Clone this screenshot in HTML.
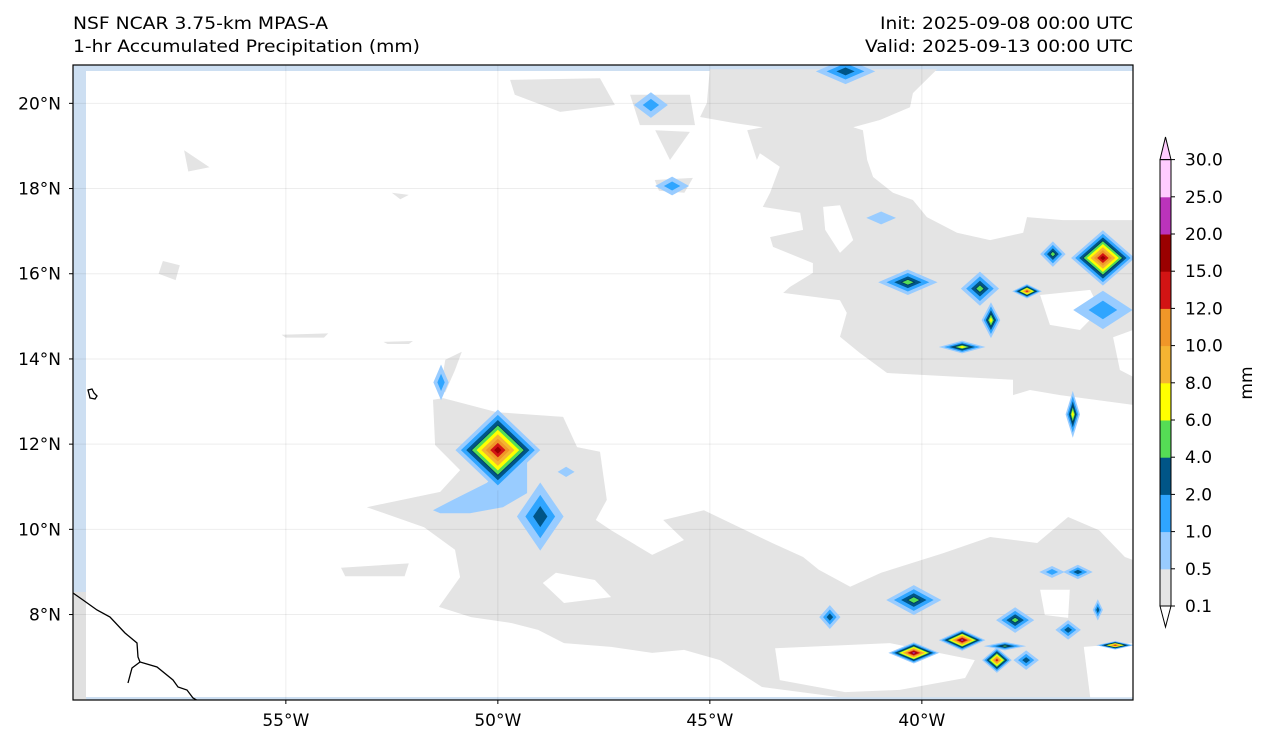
<!DOCTYPE html>
<html><head><meta charset="utf-8">
<style>
body{margin:0;background:#fff;font-family:"DejaVu Sans","Liberation Sans",sans-serif;}
svg text{font-family:"DejaVu Sans","Liberation Sans",sans-serif;fill:#000}
</style></head>
<body>
<svg id="chart" width="1268" height="745" xmlns="http://www.w3.org/2000/svg">
<rect width="1268" height="745" fill="#fff"/>
<text x="73" y="29" font-size="17" textLength="255" lengthAdjust="spacingAndGlyphs">NSF NCAR 3.75-km MPAS-A</text>
<text x="73" y="52" font-size="17" textLength="347" lengthAdjust="spacingAndGlyphs">1-hr Accumulated Precipitation (mm)</text>
<text x="880" y="29" font-size="17" textLength="253" lengthAdjust="spacingAndGlyphs">Init: 2025-09-08 00:00 UTC</text>
<text x="865" y="52" font-size="17" textLength="268" lengthAdjust="spacingAndGlyphs">Valid: 2025-09-13 00:00 UTC</text>
<defs><clipPath id="mapclip"><rect x="73" y="65" width="1060" height="635"/></clipPath></defs>
<g id="map" clip-path="url(#mapclip)"></g>
<rect x="73" y="65" width="1060" height="635" fill="none" stroke="#000" stroke-width="1.2"/>
<g id="axes"></g>
<g id="cbar"></g>
</svg>
<script>
const levels=[0.1,0.5,1,2,4,6,8,10,12,15,20,25,30];
const colors=['#e4e4e4','#99ccff','#2fa5ff','#005587','#55dd55','#ffff00','#f5b432','#f09628','#d21414','#9a0000','#bb33bb','#ffccff'];
const lonTicks=[-55,-50,-45,-40];
const latTicks=[8,10,12,14,16,18,20];
// gray (>=0.1 mm) regions, [lon,lat] pairs
const grayRegions=[
 [[-45.0,20.8],[-39.64,20.8],[-40.21,20.24],[-40.28,19.91],[-40.99,19.61],[-41.62,19.44],[-41.39,19.37],[-41.29,18.67],[-41.15,18.27],[-40.68,17.9],[-40.21,17.73],[-39.88,17.33],[-39.17,16.96],[-38.39,16.79],[-37.61,16.96],[-37.52,17.33],[-36.67,17.26],[-35.02,17.26],[-35.02,12.92],[-35.92,13.04],[-36.74,13.15],[-37.45,13.27],[-37.85,13.15],[-37.85,13.51],[-40.82,13.67],[-41.46,14.14],[-41.93,14.52],[-41.77,15.08],[-41.93,15.38],[-43.27,15.55],[-43.11,15.69],[-42.57,16.02],[-42.57,16.25],[-43.51,16.63],[-43.58,16.86],[-42.8,17.03],[-42.87,17.43],[-43.75,17.57],[-43.58,17.9],[-43.35,18.51],[-43.82,18.83],[-43.89,18.67],[-44.12,19.37],[-43.75,19.44],[-44.45,19.54],[-45.23,19.68],[-45.07,20.01]],
 [[-49.71,20.55],[-47.59,20.59],[-47.24,19.96],[-48.53,19.8],[-49.6,20.2]],
 [[-46.88,20.2],[-45.47,20.2],[-45.35,19.49],[-46.65,19.49]],
 [[-46.29,19.37],[-45.47,19.33],[-45.94,18.67]],
 [[-46.3,18.2],[-45.4,18.25],[-45.6,17.9],[-46.2,17.95]],
 [[-51.53,13.04],[-51.29,13.08],[-50.02,12.75],[-48.46,12.64],[-48.13,11.93],[-47.59,11.82],[-47.43,10.69],[-47.69,10.22],[-47.33,9.98],[-46.36,9.4],[-45.61,9.75],[-46.1,10.22],[-45.14,10.45],[-43.53,9.68],[-42.8,9.35],[-42.43,9.05],[-41.69,8.65],[-40.96,8.98],[-39.5,9.44],[-38.39,9.82],[-37.28,9.68],[-36.55,10.29],[-35.82,9.98],[-35.21,9.35],[-35.02,9.28],[-35.02,6.06],[-41.93,6.06],[-43.77,6.3],[-44.76,6.93],[-45.61,7.17],[-46.36,7.1],[-47.33,7.24],[-48.44,7.33],[-49.05,7.64],[-49.67,7.8],[-50.63,7.94],[-51.39,8.18],[-50.89,8.88],[-51.01,9.52],[-51.74,10.05],[-53.09,10.52],[-51.36,10.88],[-50.89,11.39],[-51.48,11.98]],
 [[-53.7,9.1],[-52.1,9.2],[-52.2,8.9],[-53.6,8.9]],
 [[-57.4,18.9],[-56.8,18.5],[-57.3,18.4]],
 [[-57.9,16.3],[-57.5,16.2],[-57.6,15.85],[-58.0,16.0]],
 [[-51.36,13.27],[-51.24,13.98],[-50.85,14.17],[-51.01,13.74],[-51.24,13.22]],
 [[-52.5,17.9],[-52.1,17.85],[-52.3,17.75]],
 [[-55.1,14.57],[-54.0,14.6],[-54.1,14.5],[-55.0,14.5]],
 [[-52.7,14.4],[-52.0,14.42],[-52.1,14.35],[-52.6,14.35]],
];
const whiteHoles=[
 [[-42.33,17.57],[-41.93,17.61],[-41.62,16.79],[-41.93,16.49],[-42.28,17.03]],
 [[-37.21,15.5],[-36.03,15.62],[-35.8,15.15],[-36.27,14.68],[-36.98,14.8]],
 [[-35.49,14.51],[-35.02,14.68],[-35.02,13.58],[-35.33,13.74]],
 [[-48.63,8.98],[-47.71,8.81],[-47.33,8.41],[-48.44,8.27],[-48.94,8.74]],
 [[-43.46,7.21],[-40.75,7.33],[-38.75,6.93],[-38.98,6.51],[-40.52,6.23],[-41.81,6.18],[-43.35,6.46]],
 [[-36.18,7.24],[-35.02,7.33],[-35.02,6.06],[-36.03,6.06]],
 [[-37.21,8.58],[-36.51,8.58],[-36.55,7.92],[-37.1,7.99]],
];
// light-blue (>=0.5 mm) broad patches
const lightRegions=[
 [[-51.53,10.45],[-51.06,10.69],[-50.26,11.09],[-50.02,11.32],[-49.71,11.86],[-49.31,11.7],[-49.31,10.85],[-49.88,10.52],[-50.66,10.38],[-51.36,10.38]],
];
// storm cells: lon, lat, peak (mm), half-width deg, half-height deg
const cellLon=[-50.0,-49.0,-46.39,-45.89,-40.33,-38.63,-37.52,-38.37,-39.05,-36.91,-35.73,-35.73,-36.44,-40.96,-41.8,-40.19,-42.17,-39.05,-40.19,-38.23,-38.04,-37.54,-37.8,-36.32,-36.93,-35.85,-36.55,-35.44,-51.34,-48.39];
const cellLat=[11.86,10.3,19.96,18.06,15.8,15.65,15.59,14.91,14.28,16.46,16.37,15.15,12.7,17.31,20.75,8.34,7.94,7.4,7.1,6.93,7.26,6.93,7.87,9.0,9.0,8.11,7.64,7.28,13.45,11.35];
const cellPeak=[18,3,1.5,1.5,5,5,14,7,7,4.5,17,1.6,7,0.8,3,5,3,20,22,14,5,3,4.5,3,1.5,2.5,3,14,1.5,0.8];
const cellRx=[1.0,0.55,0.4,0.4,0.7,0.45,0.35,0.22,0.55,0.3,0.75,0.7,0.17,0.35,0.7,0.65,0.25,0.55,0.6,0.35,0.5,0.3,0.45,0.35,0.3,0.12,0.3,0.45,0.18,0.2];
const cellRy=[0.95,0.8,0.3,0.22,0.3,0.4,0.17,0.42,0.15,0.3,0.65,0.45,0.55,0.15,0.3,0.35,0.28,0.25,0.25,0.3,0.1,0.23,0.3,0.17,0.14,0.25,0.23,0.1,0.42,0.12];

const X=lon=>73+(lon+60.02)*42.4;
const Y=lat=>65+(20.9-lat)*42.6;
const NS='http://www.w3.org/2000/svg';
function mk(tag,attrs,parent){const e=document.createElementNS(NS,tag);for(const k in attrs)e.setAttribute(k,attrs[k]);parent.appendChild(e);return e;}
const map=document.getElementById('map');
const axes=document.getElementById('axes');
let s1=mk('rect',{x:73,y:65,width:13,height:527,fill:'#cddff2'},map);


let s2=mk('rect',{x:73,y:65,width:1060,height:6,fill:'#cddff2'},map);


let s3=mk('rect',{x:73,y:697,width:1060,height:3,fill:'#cddff2'},map);


let s4=mk('rect',{x:73,y:592,width:13,height:108,fill:'#e0e0e0'},map);


const pts=p=>p.map(q=>X(q[0]).toFixed(1)+','+Y(q[1]).toFixed(1)).join(' ');
grayRegions.forEach(r=>{const e=mk('polygon',{points:pts(r),fill:colors[0]},map);
 
 });
whiteHoles.forEach(r=>{const e=mk('polygon',{points:pts(r),fill:'#fff'},map);
 
 });
lightRegions.forEach(r=>{const e=mk('polygon',{points:pts(r),fill:colors[1]},map);
 
 });
// gridlines (drawn above fills, faint)
lonTicks.forEach(l=>{const g=mk('line',{x1:X(l),x2:X(l),y1:65,y2:700,stroke:'#000','stroke-opacity':0.07,'stroke-width':1},map);
 
 });
latTicks.forEach(l=>{const g=mk('line',{x1:73,x2:1133,y1:Y(l),y2:Y(l),stroke:'#000','stroke-opacity':0.07,'stroke-width':1},map);
 
 });
for(let i=0;i<cellLon.length;i++){
 const p=cellPeak[i];let n=0;for(let k=1;k<levels.length;k++)if(p>=levels[k])n=k;
 const cx=X(cellLon[i]),cy=Y(cellLat[i]);
 const rx=cellRx[i]*42.4,ry=cellRy[i]*42.6;
 for(let k=1;k<=n;k++){
  const f=Math.pow(1-(k-1)/(n+0.2),1.2);
  const e=mk('polygon',{points:`${cx-rx*f},${cy} ${cx},${cy-ry*f} ${cx+rx*f},${cy} ${cx},${cy+ry*f}`,fill:colors[k],stroke:k==4?'#003a5c':'none','stroke-width':0.8},map);
  
  
 }
}
const coast=mk('polyline',{points:'73,593 83,600 97,610 110,617 125,633 137,643 138,657 140,662 157,667 173,680 178,687 187,690 193,698 200,702',fill:'none',stroke:'#000','stroke-width':1.3},map);


const coast2=mk('polyline',{points:'140,662 132,668 128,683',fill:'none',stroke:'#000','stroke-width':1.3},map);


const barb=mk('path',{d:'M88,390 l4,-1 l2,4 l3,3 l-2,3 l-5,-1 z',fill:'none',stroke:'#000','stroke-width':1.3},map);


lonTicks.forEach(l=>{const t=mk('text',{x:X(l),y:726,'font-size':17,'text-anchor':'middle'},axes);t.textContent=Math.abs(l)+'°W';
 
 
 const tk=mk('line',{x1:X(l),x2:X(l),y1:700,y2:704,stroke:'#000'},axes);
 
 });
latTicks.forEach(l=>{const t=mk('text',{x:61,y:Y(l)+6,'font-size':17,'text-anchor':'end'},axes);t.textContent=l+'°N';
 
 
 const tk=mk('line',{x1:69,x2:73,y1:Y(l),y2:Y(l),stroke:'#000'},axes);
 
 });
const cb=document.getElementById('cbar');
const cbx=1160,cbw=11,cbBot=606,step=37.2;
const CY=k=>cbBot-k*step;
for(let k=0;k<colors.length;k++){
 const e=mk('rect',{x:cbx,y:CY(k+1),width:cbw,height:step+0.5,fill:colors[k]},cb);
 
 
}
const tp=mk('polygon',{points:`${cbx},${CY(12)} ${cbx+cbw/2},137 ${cbx+cbw},${CY(12)}`,fill:'#ffccff',stroke:'#000','stroke-width':1},cb);


const bt=mk('polygon',{points:`${cbx},${cbBot} ${cbx+cbw/2},627 ${cbx+cbw},${cbBot}`,fill:'#fff',stroke:'#000','stroke-width':1},cb);


const fr=mk('rect',{x:cbx,y:CY(12),width:cbw,height:cbBot-CY(12),fill:'none',stroke:'#000','stroke-width':1},cb);


levels.forEach((v,k)=>{
 const tk=mk('line',{x1:cbx+cbw,x2:cbx+cbw+4,y1:CY(k),y2:CY(k),stroke:'#000'},cb);
 
 
 const t=mk('text',{x:1185,y:CY(k)+6,'font-size':17},cb);t.textContent=v.toFixed(1);
 
 
});
const u=mk('text',{x:1252,y:383,'font-size':17,'text-anchor':'middle',transform:'rotate(-90 1252 383)'},cb);u.textContent='mm';


</script>
</body></html>
